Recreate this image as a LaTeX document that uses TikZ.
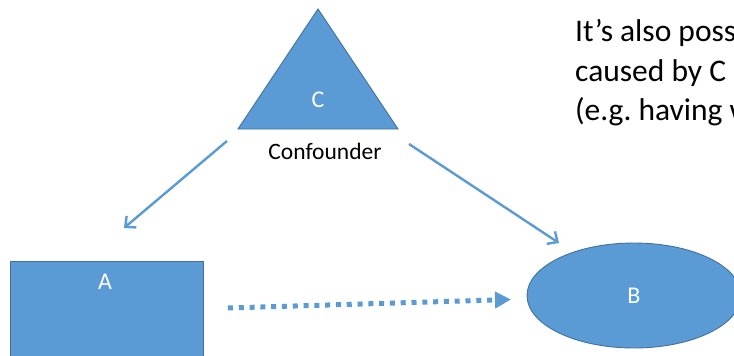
\documentclass[tikz,border=0pt]{standalone}
\usepackage{fontspec}
\setmainfont{Carlito}
\frenchspacing
\usetikzlibrary{arrows.meta,shapes.geometric}
\definecolor{shapefill}{HTML}{5B9BD5}
\definecolor{shapeline}{HTML}{41719C}
\tikzset{
  blueshape/.style={fill=shapefill, draw=shapeline, line width=0.9pt},
  shapelabel/.style={text=white, font=\fontsize{24}{28}\selectfont},
  causal/.style={draw=shapefill, line width=2.4pt, -{Straight Barb[length=8pt,width=15pt,line width=2.4pt]}},
  maybecausal/.style={draw=shapefill, line width=5pt, dash pattern=on 5pt off 5.8pt,
    -{Triangle[length=16pt,width=16pt]}, shorten >=0pt},
  notes/.style={anchor=base west, inner sep=0pt, font=\fontsize{31.5}{38}\selectfont},
}
\begin{document}
\begin{tikzpicture}[x=1pt,y=-1pt]
  \clip (0,0) rectangle (734,356);
  \fill[white] (0,0) rectangle (734,356);

  % confounder triangle
  \path[blueshape] (318,9) -- (398,129) -- (238,129) -- cycle;
  \node[shapelabel] (c) at (318,100) {C};
  \node[font=\fontsize{23.5}{28}\selectfont] (conf) at (325,151) {Confounder};

  % treatment box and outcome ellipse
  \node[blueshape, rectangle, minimum width=193pt, minimum height=130pt,
        anchor=north west, inner sep=0pt] (a) at (10,261) {};
  \node[shapelabel] (alabel) at (105,282) {A};
  \node[blueshape, ellipse, minimum width=214pt, minimum height=105pt,
        inner sep=0pt] (b) at (634,295.5) {};
  \node[shapelabel] (blabel) at (634,295.5) {B};

  % causal arrows
  \coordinate (cl) at (227,141);
  \coordinate (al) at (124,228);
  \coordinate (cr) at (409,144);
  \coordinate (br) at (559,243);
  \draw[causal] (cl) -- (al);
  \draw[causal] (cr) -- (br);

  \coordinate (ad) at (228,308);
  \coordinate (bd) at (511,299.5);
  \draw[maybecausal] (ad) -- (bd);

  % side note
  \node[notes] (n1) at (575,41) {It’s also possible that A and B are both};
  \node[notes] (n2) at (575,81) {caused by C};
  \node[notes] (n3) at (575,120) {(e.g. having wealthy parents)};
\end{tikzpicture}
\end{document}
